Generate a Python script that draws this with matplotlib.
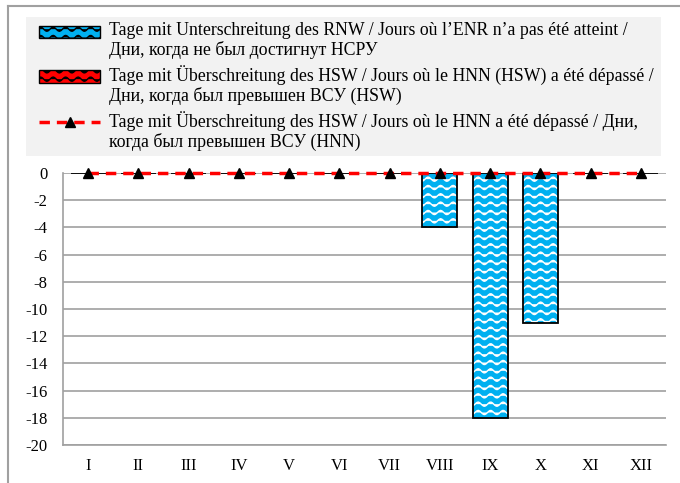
import numpy as np
import matplotlib
matplotlib.use('Agg')
from matplotlib import pyplot as plt
from matplotlib import hatch as mhatch
from matplotlib.path import Path
from matplotlib.patches import Patch
from matplotlib.lines import Line2D
from matplotlib.legend_handler import HandlerPatch, HandlerLine2D
from matplotlib.transforms import Affine2D
import warnings

warnings.filterwarnings('ignore')

months = ['I', 'II', 'III', 'IV', 'V', 'VI', 'VII', 'VIII', 'IX', 'X', 'XI', 'XII']
below_rnw = [0, 0, 0, 0, 0, 0, 0, -4, -18, -11, 0, 0]
above_hsw = [0, 0, 0, 0, 0, 0, 0, 0, 0, 0, 0, 0]
above_hnn = [0, 0, 0, 0, 0, 0, 0, 0, 0, 0, 0, 0]

labels = [
    'Tage mit Unterschreitung des RNW / Jours où l\u2019ENR n\u2019a pas été atteint /\nДни, когда не был достигнут НСРУ',
    'Tage mit Überschreitung des HSW / Jours où le HNN (HSW) a été dépassé /\nДни, когда был превышен ВСУ (HSW)',
    'Tage mit Überschreitung des HSW / Jours où le HNN a été dépassé / Дни,\nкогда был превышен ВСУ (HNN)',
]


# wavy hatch ('w'), not available in matplotlib by default
class WaveHatch(mhatch.HatchPatternBase):
    def __init__(self, hatch, density):
        self.num_lines = int(hatch.count('w') * density)
        self.num_pts = 80
        self.num_vertices = self.num_lines * self.num_pts

    def set_vertices_and_codes(self, vertices, codes):
        x = np.linspace(0, 1, self.num_pts)
        for i in range(self.num_lines):
            y0 = (i + 0.5) / self.num_lines
            y = y0 + 0.021 * np.sin(2 * np.pi * 8 * x)
            s = slice(i * self.num_pts, (i + 1) * self.num_pts)
            vertices[s, 0] = x
            vertices[s, 1] = y
            codes[s] = Path.LINETO
            codes[i * self.num_pts] = Path.MOVETO


mhatch._hatch_types.append(WaveHatch)

# legend keys sit next to the first text line, not in the middle
SHIFT_X, SHIFT_Y = 8, 9


class UpPatch(HandlerPatch):
    def create_artists(self, legend, orig_handle, xdescent, ydescent, width, height, fontsize, trans):
        return super().create_artists(legend, orig_handle, xdescent, ydescent, width, height,
                                      fontsize, trans + Affine2D().translate(SHIFT_X, SHIFT_Y))


class UpLine(HandlerLine2D):
    def create_artists(self, legend, orig_handle, xdescent, ydescent, width, height, fontsize, trans):
        return super().create_artists(legend, orig_handle, xdescent, ydescent, width, height,
                                      fontsize, trans + Affine2D().translate(SHIFT_X, SHIFT_Y))


plt.rcParams['font.family'] = ['Liberation Serif', 'DejaVu Serif']
plt.rcParams['hatch.linewidth'] = 1.0
plt.rcParams['axes.unicode_minus'] = False

fig = plt.figure(figsize=(6.8, 4.83), dpi=100)
ax = fig.add_axes([63 / 680, 1 - 445 / 483, 603 / 680, 272 / 483])

x = np.arange(len(months))
blue = '#00b0f0'
red = '#ff0000'

ax.bar(x, below_rnw, width=0.7, color=blue, edgecolor='white', hatch='ww', linewidth=0, zorder=2)
ax.bar(x, below_rnw, width=0.7, facecolor='none', edgecolor='black', linewidth=1.3, zorder=3)
ax.bar(x, above_hsw, width=0.7, color=red, edgecolor='white', hatch='ww', linewidth=0, zorder=2)
ax.plot(x, above_hnn, color=red, linestyle=(0, (3, 2)), linewidth=2.5, marker='^',
        markersize=7, markerfacecolor='black', markeredgecolor='black', zorder=4, clip_on=False)

ax.set_xlim(-0.5, len(months) - 0.5)
ax.set_ylim(-20, 0)
ax.set_yticks(np.arange(-20, 1, 2))
ax.set_xticks(x)
ax.set_xticklabels(months)
ax.yaxis.grid(True, color='#a0a0a0', linewidth=1.2, zorder=0)
ax.set_axisbelow(True)
ax.tick_params(axis='both', length=0, labelsize=12)
ax.tick_params(axis='y', pad=11)
ax.tick_params(axis='x', pad=9)
for side in ['top', 'right']:
    ax.spines[side].set_visible(False)
for side in ['left', 'bottom']:
    ax.spines[side].set_color('#a0a0a0')
    ax.spines[side].set_linewidth(1.2)

p_blue = Patch(facecolor=blue, edgecolor='black', hatch='ww', linewidth=1.0)
p_red = Patch(facecolor=red, edgecolor='black', hatch='ww', linewidth=1.0)
l_hnn = Line2D([0], [0], color=red, linestyle=(0, (3, 2)), linewidth=2.5, marker='^',
               markersize=7, markerfacecolor='black', markeredgecolor='black')
leg = fig.legend([p_blue, p_red, l_hnn], labels, loc='upper left',
                 bbox_to_anchor=(26 / 680, 1 - 17 / 483, 635 / 680, 0), mode='expand',
                 handler_map={Patch: UpPatch(), Line2D: UpLine()},
                 frameon=True, facecolor='#f2f2f2', edgecolor='none', fancybox=False,
                 fontsize=12.8, handlelength=3.43, handletextpad=0.96, labelspacing=0.35,
                 borderpad=0.3, borderaxespad=0)
leg.get_frame().set_alpha(1)
for t in leg.get_texts():
    t.set_linespacing(1.12)

# outer frame (top and left edges visible)
fig.add_artist(Line2D([8 / 680, 8 / 680], [0, 1 - 6 / 483], transform=fig.transFigure,
                      color='#a0a0a0', linewidth=1.5))
fig.add_artist(Line2D([8 / 680, 1], [1 - 6 / 483, 1 - 6 / 483], transform=fig.transFigure,
                      color='#a0a0a0', linewidth=1.5))

fig.savefig('out.png', dpi=100)
